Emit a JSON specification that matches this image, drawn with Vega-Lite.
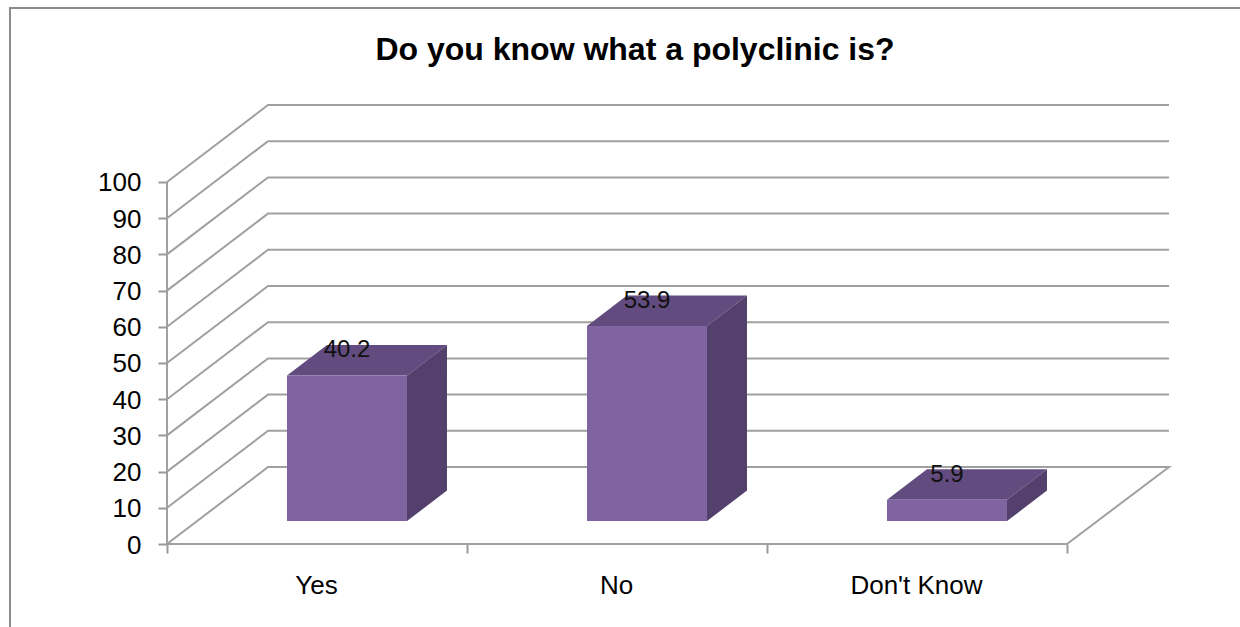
{"$schema":"https://vega.github.io/schema/vega-lite/v6.json","autosize":{"type":"none"},"padding":{"left":167,"top":105,"right":71,"bottom":83},"width":1002,"height":439,"background":"white","config":{"view":{"stroke":null},"font":"Liberation Sans"},"title":{"text":"Do you know what a polyclinic is?","anchor":"middle","frame":"group","dx":-33,"dy":63,"offset":0,"fontSize":32,"fontWeight":"bold","font":"Liberation Sans","color":"#000000"},"datasets":{"bars":[{"category":"Yes","value":40.2,"start":0.4,"end":0.8},{"category":"No","value":53.9,"start":1.4,"end":1.8},{"category":"Don't Know","value":5.9,"start":2.4,"end":2.8}],"tops":[{"category":"Yes","level":46.55,"left":0.4,"right":0.8},{"category":"Yes","level":54.95,"left":0.5333,"right":0.9333},{"category":"No","level":60.25,"left":1.4,"right":1.8},{"category":"No","level":68.65,"left":1.5333,"right":1.9333},{"category":"Don't Know","level":12.25,"left":2.4,"right":2.8},{"category":"Don't Know","level":20.65,"left":2.5333,"right":2.9333}],"sides":[{"category":"Yes","pos":0.8,"low":6.35,"high":46.55},{"category":"Yes","pos":0.9333,"low":14.75,"high":54.95},{"category":"No","pos":1.8,"low":6.35,"high":60.25},{"category":"No","pos":1.9333,"low":14.75,"high":68.65},{"category":"Don't Know","pos":2.8,"low":6.35,"high":12.25},{"category":"Don't Know","pos":2.9333,"low":14.75,"high":20.65}],"grid":[{"line":"g0","seq":0,"px":3,"py":0},{"line":"g0","seq":1,"px":3.34,"py":21.27},{"line":"g0","seq":2,"px":0.3367,"py":21.27},{"line":"g0","seq":3,"px":0,"py":0},{"line":"g0","seq":4,"px":3,"py":0},{"line":"g10","seq":0,"px":0,"py":10},{"line":"g10","seq":1,"px":0.3367,"py":31.27},{"line":"g10","seq":2,"px":3.34,"py":31.27},{"line":"g20","seq":0,"px":0,"py":20},{"line":"g20","seq":1,"px":0.3367,"py":41.27},{"line":"g20","seq":2,"px":3.34,"py":41.27},{"line":"g30","seq":0,"px":0,"py":30},{"line":"g30","seq":1,"px":0.3367,"py":51.27},{"line":"g30","seq":2,"px":3.34,"py":51.27},{"line":"g40","seq":0,"px":0,"py":40},{"line":"g40","seq":1,"px":0.3367,"py":61.27},{"line":"g40","seq":2,"px":3.34,"py":61.27},{"line":"g50","seq":0,"px":0,"py":50},{"line":"g50","seq":1,"px":0.3367,"py":71.27},{"line":"g50","seq":2,"px":3.34,"py":71.27},{"line":"g60","seq":0,"px":0,"py":60},{"line":"g60","seq":1,"px":0.3367,"py":81.27},{"line":"g60","seq":2,"px":3.34,"py":81.27},{"line":"g70","seq":0,"px":0,"py":70},{"line":"g70","seq":1,"px":0.3367,"py":91.27},{"line":"g70","seq":2,"px":3.34,"py":91.27},{"line":"g80","seq":0,"px":0,"py":80},{"line":"g80","seq":1,"px":0.3367,"py":101.27},{"line":"g80","seq":2,"px":3.34,"py":101.27},{"line":"g90","seq":0,"px":0,"py":90},{"line":"g90","seq":1,"px":0.3367,"py":111.27},{"line":"g90","seq":2,"px":3.34,"py":111.27},{"line":"g100","seq":0,"px":0,"py":100},{"line":"g100","seq":1,"px":0.3367,"py":121.27},{"line":"g100","seq":2,"px":3.34,"py":121.27},{"line":"axis","seq":0,"px":0,"py":0},{"line":"axis","seq":1,"px":0,"py":100}],"frame":[{"seq":0,"px":-0.5233,"py":-23},{"seq":1,"px":-0.5233,"py":148.07},{"seq":2,"px":3.5767,"py":148.07}]},"layer":[{"data":{"name":"frame"},"mark":{"type":"line","color":"#8c8c8c","strokeWidth":2,"clip":false},"encoding":{"x":{"field":"px","type":"quantitative","scale":{"domain":[0,3.34],"nice":false,"zero":false},"axis":{"values":[0,1,2,3],"title":null,"domain":false,"grid":false,"tickSize":9,"tickColor":"#999999","tickWidth":2,"labelExpr":"['Yes','No',\"Don't Know\",''][datum.value]","labelOffset":149,"labelPadding":19,"labelFontSize":26,"labelColor":"#000000","labelFont":"Liberation Sans","labelOverlap":false,"labelFlush":false}},"y":{"field":"py","type":"quantitative","scale":{"domain":[0,121.27],"nice":false,"zero":false},"axis":{"values":[0,10,20,30,40,50,60,70,80,90,100],"title":null,"domain":false,"grid":false,"tickSize":9,"tickColor":"#999999","tickWidth":2,"labelPadding":17,"labelFontSize":26,"labelOffset":1,"labelColor":"#000000","labelFont":"Liberation Sans","labelOverlap":false,"labelFlush":false}},"order":{"field":"seq"}}},{"data":{"name":"grid"},"mark":{"type":"line","color":"#a0a0a0","strokeWidth":2,"clip":false},"encoding":{"x":{"field":"px","type":"quantitative"},"y":{"field":"py","type":"quantitative"},"detail":{"field":"line"},"order":{"field":"seq"}}},{"data":{"name":"tops"},"mark":{"type":"area","orient":"horizontal","color":"#624B7E","opacity":1},"encoding":{"y":{"field":"level","type":"quantitative"},"x":{"field":"left","type":"quantitative"},"x2":{"field":"right"},"detail":{"field":"category"}}},{"data":{"name":"sides"},"mark":{"type":"area","orient":"vertical","color":"#54406C","opacity":1},"encoding":{"x":{"field":"pos","type":"quantitative"},"y":{"field":"low","type":"quantitative"},"y2":{"field":"high"},"detail":{"field":"category"}}},{"data":{"name":"bars"},"mark":{"type":"rect","color":"#8064A2","yOffset":-23,"y2Offset":-23},"encoding":{"x":{"field":"start","type":"quantitative"},"x2":{"field":"end"},"y":{"field":"value","type":"quantitative"},"y2":{"datum":0}}},{"data":{"name":"bars"},"mark":{"type":"text","fontSize":24,"font":"Liberation Sans","color":"#111111","dx":60,"dy":-48,"align":"center","baseline":"middle"},"encoding":{"x":{"field":"start","type":"quantitative"},"y":{"field":"value","type":"quantitative"},"text":{"field":"value","type":"quantitative","format":".1f"}}}]}
